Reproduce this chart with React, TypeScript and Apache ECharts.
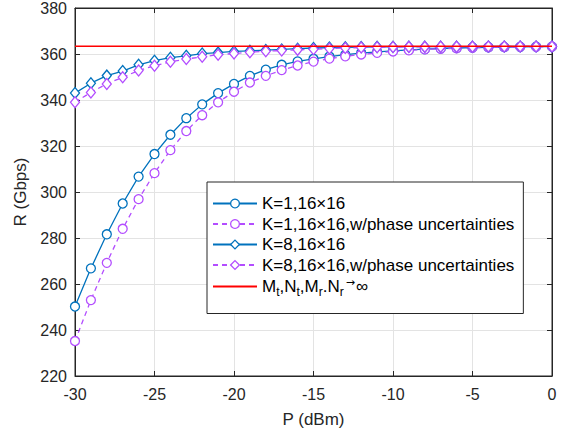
import React, { useEffect, useRef } from "react";
import * as echarts from "echarts";

const P_DBM = [-30, -29, -28, -27, -26, -25, -24, -23, -22, -21, -20, -19, -18, -17, -16, -15, -14, -13, -12, -11, -10, -9, -8, -7, -6, -5, -4, -3, -2, -1, 0];

const K1 = [250.2, 266.8, 281.6, 295.0, 306.7, 316.5, 324.9, 332.1, 338.1, 343.0, 347.0, 350.5, 353.2, 355.3, 356.8, 357.9, 358.9, 359.7, 360.4, 360.9, 361.4, 361.8, 362.1, 362.4, 362.6, 362.8, 362.9, 363.0, 363.1, 363.2, 363.2];
const K1_PHASE = [235.2, 253.0, 269.2, 284.0, 296.9, 308.2, 318.2, 326.5, 333.4, 339.0, 343.6, 347.6, 350.5, 353.0, 355.0, 356.7, 358.0, 359.0, 359.8, 360.5, 361.1, 361.6, 362.0, 362.3, 362.5, 362.7, 362.9, 363.0, 363.1, 363.1, 363.2];
const K8 = [343.0, 347.3, 350.6, 352.6, 355.3, 357.1, 358.4, 359.2, 360.2, 360.6, 361.1, 361.4, 361.7, 362.0, 362.3, 362.6, 362.8, 362.9, 363.0, 363.1, 363.1, 363.2, 363.2, 363.2, 363.2, 363.2, 363.3, 363.3, 363.3, 363.3, 363.3];
const K8_PHASE = [339.0, 343.3, 347.0, 349.9, 352.8, 354.9, 356.6, 357.8, 358.8, 359.7, 360.2, 360.8, 361.2, 361.5, 361.8, 362.1, 362.4, 362.6, 362.8, 362.9, 363.0, 363.1, 363.1, 363.2, 363.2, 363.2, 363.3, 363.3, 363.3, 363.3, 363.3];
const LIMIT_X = [-30, 0];
const LIMIT_Y = [363.4, 363.4];

const NAMES = [
  "K=1,16×16",
  "K=1,16×16,w/phase uncertainties",
  "K=8,16×16",
  "K=8,16×16,w/phase uncertainties",
  "limit",
];

const BLUE = "#0072BD";
const PURPLE = "#B34DFF";
const RED = "#FF0000";
const FONT = "'Liberation Sans', Arial, Helvetica, sans-serif";
const AX = "#262626";

const pair = (ys: number[]) => P_DBM.map((x, i) => [x, ys[i]]);

export default function App() {
  const ref = useRef<HTMLDivElement>(null);
  useEffect(() => {
    document.body.style.margin = "0";
    const chart = echarts.init(ref.current!, null, { renderer: "svg" });
    const axisCommon = {
      type: "value" as const,
      axisLine: { show: true, onZero: false, lineStyle: { color: AX, width: 1 } },
      axisTick: { show: true, inside: true, length: 5, lineStyle: { color: AX } },
    };
    const lineSeries = (name: string, data: number[], color: string, symbol: string, dashed: boolean, size: any) => ({
      name,
      type: "line",
      data: pair(data),
      symbol,
      symbolSize: size,
      showSymbol: true,
      lineStyle: { color, width: 1.3, type: dashed ? [5, 4] : "solid" },
      itemStyle: { color: "#ffffff", borderColor: color, borderWidth: 1.3 },
      emphasis: { disabled: true },
      z: 3,
    });
    chart.setOption({
      animation: false,
      backgroundColor: "#ffffff",
      textStyle: { fontFamily: FONT },
      grid: { left: 75, right: 13, top: 4, bottom: 59, show: true, borderColor: AX, borderWidth: 1, backgroundColor: "#fff" },
      xAxis: [
        {
          ...axisCommon,
          min: -30,
          max: 0,
          interval: 5,
          name: "P (dBm)",
          nameLocation: "middle",
          nameGap: 35,
          nameTextStyle: { color: AX, fontSize: 17, fontFamily: FONT },
          axisLabel: { color: AX, fontSize: 16, fontFamily: FONT, margin: 10 },
          splitLine: { show: true, lineStyle: { color: "#e3e3e3", width: 1 } },
        },
        {
          ...axisCommon,
          position: "top",
          min: -30,
          max: 0,
          interval: 5,
          axisLabel: { show: false },
          splitLine: { show: false },
        },
      ],
      yAxis: [
        {
          ...axisCommon,
          min: 220,
          max: 380,
          interval: 20,
          name: "R (Gbps)",
          nameLocation: "middle",
          nameGap: 43,
          nameTextStyle: { color: AX, fontSize: 17, fontFamily: FONT },
          axisLabel: { color: AX, fontSize: 16, fontFamily: FONT, margin: 8 },
          splitLine: { show: true, lineStyle: { color: "#e3e3e3", width: 1 } },
        },
        {
          ...axisCommon,
          position: "right",
          min: 220,
          max: 380,
          interval: 20,
          axisLabel: { show: false },
          splitLine: { show: false },
        },
      ],
      legend: {
        orient: "vertical",
        left: 207,
        top: 182,
        padding: [13, 9, 16, 5],
        itemGap: 3.5,
        itemWidth: 44,
        itemHeight: 11,
        backgroundColor: "#fff",
        borderColor: AX,
        borderWidth: 1,
        borderRadius: 0,
        itemStyle: { borderWidth: 1.3 },
        textStyle: {
          color: "#000",
          fontSize: 17,
          fontFamily: FONT,
          rich: {
            n: { fontSize: 17, fontFamily: FONT, color: "#000" },
            s: { fontSize: 12, fontFamily: FONT, color: "#000", padding: [10, 0, 0, 0] },
            a: { fontSize: 11, fontFamily: "'DejaVu Sans', sans-serif", color: "#000", padding: [0, 1, 8, 2] },
          },
        },
        formatter: (name: string) =>
          name === "limit"
            ? "{n|M}{s|t}{n|,N}{s|t}{n|,M}{s|r}{n|.N}{s|r}{a|→}{n|∞}"
            : name,
        data: [
          { name: NAMES[0] },
          { name: NAMES[1] },
          { name: NAMES[2] },
          { name: NAMES[3] },
          { name: NAMES[4], itemStyle: { opacity: 0 } },
        ],
        selectedMode: false,
      },
      series: [
        lineSeries(NAMES[0], K1, BLUE, "circle", false, 9),
        lineSeries(NAMES[1], K1_PHASE, PURPLE, "circle", true, 9),
        lineSeries(NAMES[2], K8, BLUE, "diamond", false, [9, 11]),
        lineSeries(NAMES[3], K8_PHASE, PURPLE, "diamond", true, [9, 11]),
        {
          name: NAMES[4],
          type: "line",
          data: LIMIT_X.map((x, i) => [x, LIMIT_Y[i]]),
          symbol: "none",
          lineStyle: { color: RED, width: 1.5 },
          itemStyle: { color: RED },
          emphasis: { disabled: true },
          z: 4,
        },
      ],
    });
    return () => chart.dispose();
  }, []);
  return <div ref={ref} style={{ width: 565, height: 435 }} />;
}
